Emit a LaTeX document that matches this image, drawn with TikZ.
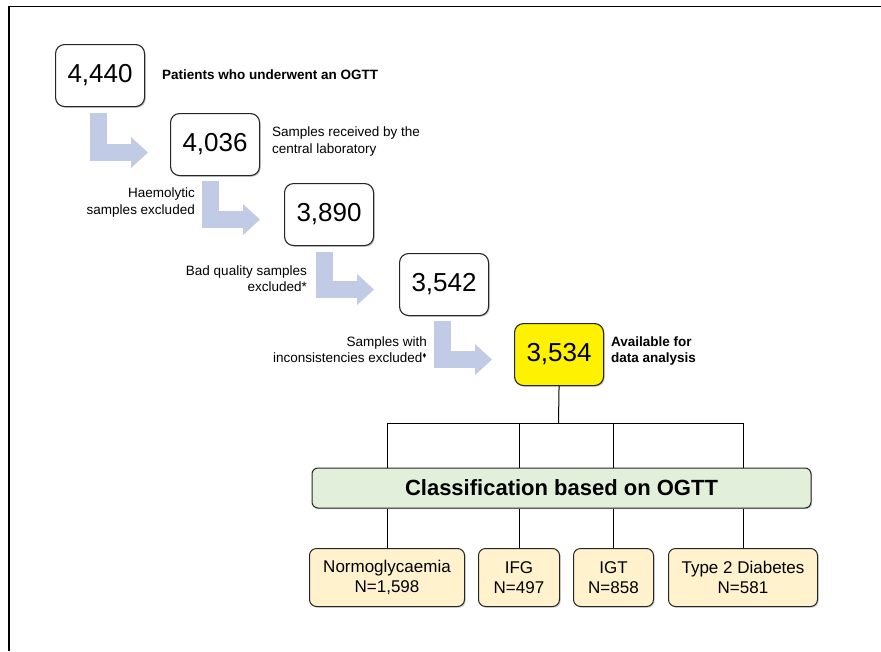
\documentclass[tikz,border=0pt]{standalone}
\usepackage{fontspec}
\setmainfont{Liberation Sans}
\usepackage{amssymb}
\usetikzlibrary{arrows.meta,calc,shadows}

\definecolor{arrowblue}{HTML}{C2CBE6}
\definecolor{clsgreen}{HTML}{E2EFDA}
\definecolor{grpcream}{HTML}{FFF2CC}
\definecolor{edge}{HTML}{262626}

\begin{document}
\begin{tikzpicture}[x=1pt,y=-1pt,
  softshadow/.style={drop shadow={shadow xshift=1.2pt,shadow yshift=-1.2pt,opacity=0.35,fill=black!60}},
  numbox/.style={draw=edge,line width=1.1pt,rounded corners=9pt,fill=white,
    minimum width=89pt,minimum height=62pt,inner sep=0pt,anchor=north west,
    font=\fontsize{26}{30}\selectfont,softshadow},
  note/.style={inner sep=0pt,font=\fontsize{13.5}{16.5}\selectfont},
  boldnote/.style={note,font=\fontsize{13.5}{16.5}\selectfont\bfseries},
  bendarrow/.style={draw=arrowblue,line width=17pt,line join=miter,
    -{Triangle[width=30pt,length=17pt]}},
  grpbox/.style={draw=edge,line width=1pt,rounded corners=7pt,fill=grpcream,
    minimum height=58pt,inner sep=0pt,anchor=north west,align=center,
    font=\fontsize{17}{20}\selectfont,softshadow},
  tree/.style={draw=black,line width=1pt}]

\useasboundingbox (0,0) rectangle (881,651);

% frame along the top and left edges
\draw[line width=1.8pt] (9,651) -- (9,6.5) -- (881,6.5);

% numbered steps
\node[numbox] (b1) at (55,44)  {4,440};
\node[numbox] (b2) at (170,113) {4,036};
\node[numbox] (b3) at (284,183) {3,890};
\node[numbox] (b4) at (399,253) {3,542};
\node[numbox,fill=yellow] (b5) at (514,323) {3,534};

% step descriptions
\node[boldnote,anchor=west] (t1) at (162,75) {Patients who underwent an OGTT};
\node[note,anchor=west,align=left] (t2) at (272,141.5) {Samples received by the\\central laboratory};
\node[note,anchor=east,align=right] (t3) at (195,202.5) {Haemolytic\\samples excluded};
\node[note,anchor=east,align=right] (t4) at (307,278.5) {Bad quality samples\\excluded*};
\node[note,anchor=east,align=right] (t5) at (427,349.5) {Samples with\\inconsistencies excluded\textsuperscript{\scalebox{0.6}{$\blacklozenge$}}};
\node[boldnote,anchor=west,align=left] (t6) at (611,351) {Available for\\data analysis};

% bent block arrows between steps
\draw[bendarrow] ($(b1.south west)+(43.5,6)$) |- ($(b2.west)+(-22,8)$);
\draw[bendarrow] ($(b2.south west)+(40,5)$) |- ($(b3.west)+(-24,5)$);
\draw[bendarrow] ($(b3.south west)+(40,6)$) |- ($(b4.west)+(-25,5)$);
\draw[bendarrow] ($(b4.south west)+(43,5)$) |- ($(b5.west)+(-22,5)$);

% classification
\node[draw=edge,line width=1pt,rounded corners=6pt,fill=clsgreen,softshadow,
  minimum width=499pt,minimum height=40pt,inner sep=0pt,
  font=\fontsize{22}{26}\selectfont\bfseries] (cls) at (561.5,488) {Classification based on OGTT};

\node[grpbox,minimum width=155pt] (g1) at (309,548) {Normoglycaemia\\N=1,598};
\node[grpbox,minimum width=81pt]  (g2) at (478,548) {IFG\\N=497};
\node[grpbox,minimum width=80pt]  (g3) at (573,548) {IGT\\N=858};
\node[grpbox,minimum width=149pt] (g4) at (668,548) {Type 2 Diabetes\\N=581};

% tree connectors
\coordinate (split) at (558.5,423);
\draw[tree] (b5.south) -- (split);
\draw[tree] (g1 |- split) -- (g4 |- split);
\foreach \g in {g1,g2,g3,g4}{
  \draw[tree] (\g |- split) -- (\g |- cls.north);
  \draw[tree] (\g |- cls.south) -- (\g.north);
}
\end{tikzpicture}
\end{document}
